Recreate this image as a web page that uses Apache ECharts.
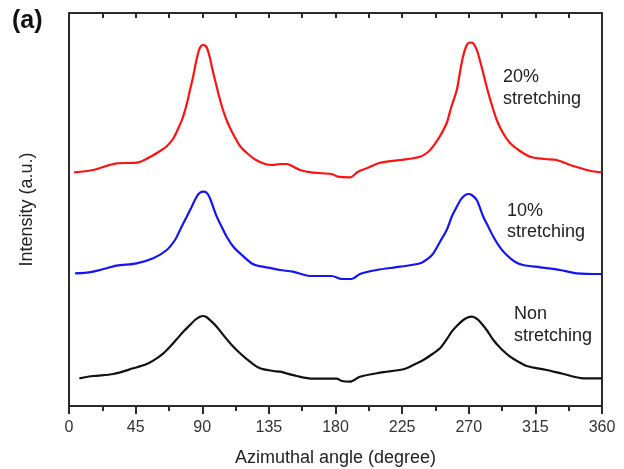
<!DOCTYPE html>
<html>
<head>
<meta charset="utf-8">
<script src="https://cdn.jsdelivr.net/npm/echarts@6/dist/echarts.min.js"></script>
<style>
html,body{margin:0;padding:0;background:#fff;overflow:hidden;}
#chart{width:624px;height:469px;}
</style>
</head>
<body>
<div id="chart"></div>
<script>
// Azimuthal angle (degree), intensity (a.u.) pairs
var xTicks = [0, 45, 90, 135, 180, 225, 270, 315, 360];

var red20 = [
  [3.4,233.7],[16.4,236],[32.2,242.7],[45.7,243.3],[54.7,249],[61.5,255],[66.2,260],[70.2,267],
  [73.6,277],[77.0,289],[79.7,303],[81.7,316],[83.8,329],[85.8,344],[87.8,356],[89.2,360],
  [90.5,361],[91.9,360.5],[93.2,358],[95.2,348],[97.3,334],[99.3,322],[101.3,310],[104.0,296],
  [106.7,285],[110.1,274],[115.5,260],[120.9,252],[126.3,246],[132.4,242],[137.8,241],[142.5,242],
  [147.2,242],[149.3,241],[156.0,236],[164.8,233.3],[177.4,232],[181.7,229.3],[189.8,228.7],
  [195.2,234.3],[201.1,237.7],[210.1,243.3],[223.6,246],[237.1,249.3],[242.5,254],[245.8,259.3],
  [250.6,270],[255.1,283],[258.0,298],[261.9,316],[264.1,334],[266.1,349.3],[268.1,359],
  [269.5,362.7],[271.5,363.5],[272.9,362.7],[274.9,358],[276.2,352.7],[278.9,338],[282.1,319.3],
  [285.0,304],[288.9,286],[293.1,273],[297.9,263],[304.6,255],[311.4,249.3],[321.5,247],
  [329.4,246],[338.4,241],[351.9,235.3],[359.8,233.7]
];

var blue10 = [
  [4.1,132.7],[12.0,133.3],[20.9,136],[32.2,140.3],[45.7,142.7],[56.9,147.7],[66.0,156],[71.6,166],
  [75.0,176],[79.5,189.3],[82.9,199.3],[86.2,209.3],[88.5,213.3],[90.7,214.3],[93.0,213.3],
  [95.2,207.7],[99.8,189.3],[103.1,179.3],[106.5,169.3],[111.0,159.3],[115.5,152.7],[124.5,141.7],
  [133.5,138.7],[142.5,136],[151.3,134.3],[162.8,130],[177.4,130],[184.2,127],[190.9,127],
  [196.5,132],[207.8,136],[223.6,139.3],[237.1,142.7],[242.7,147.7],[246.1,152.7],[250.6,164.3],
  [255.1,176],[258.5,189.3],[261.9,199.3],[265.2,207.7],[268.1,211.3],[269.7,212],[272.0,211],
  [275.4,206],[279.8,189.3],[283.2,179.3],[286.6,169.3],[291.1,158.7],[295.6,151],[301.2,144.3],
  [306.8,141],[318.1,138.7],[331.6,136],[342.9,132.7],[359.8,132]
];

var blackNon = [
  [7.0,27.7],[16.4,30],[29.9,32],[43.4,37.7],[52.5,42],[59.2,47.7],[63.7,52.7],[68.2,59.3],
  [72.7,66.7],[77.2,74.3],[81.7,81],[85.1,86],[88.5,89.3],[90.7,90],[93.0,88.7],[95.2,86],
  [99.8,79.3],[104.2,71],[109.9,61],[115.5,52.7],[122.2,44.3],[129.0,37.7],[138.0,35],[142.5,34.3],
  [153.8,30],[164.8,27.3],[180.8,27.3],[184.2,25],[189.8,24.3],[196.5,29.3],[210.1,33.3],
  [225.8,36.7],[232.5,41],[239.3,46],[246.1,52.7],[250.6,57.7],[255.1,66.7],[258.5,74.3],
  [261.9,80],[266.3,86],[269.7,88.7],[272.0,89.3],[274.9,87.7],[277.6,84.3],[282.1,76],[286.6,66],
  [292.2,56.7],[297.9,49.3],[303.5,44.3],[309.1,40],[322.6,36],[333.9,32],[347.4,27.7],[359.8,27.7]
];

var FONT = '"Liberation Sans", Arial, sans-serif';
var AX = '#2b2b2b';

var chart = echarts.init(document.getElementById('chart'), null, {renderer: 'canvas', width: 624, height: 469});

function lineSeries(name, data, color) {
  return {
    name: name, type: 'line', data: data, xAxisIndex: 0, yAxisIndex: 0,
    smooth: 0.3, symbol: 'none',
    lineStyle: {color: color, width: 2.2},
    animation: false
  };
}

chart.setOption({
  animation: false,
  grid: {left: 69, right: 22, top: 13, bottom: 63, containLabel: false, outerBoundsMode: 'none'},
  xAxis: [
    {
      type: 'value', position: 'bottom', min: 0, max: 360, interval: 45,
      name: 'Azimuthal angle (degree)', nameLocation: 'middle', nameGap: 43,
      nameTextStyle: {fontFamily: FONT, fontSize: 18, color: '#222'},
      axisLine: {show: true, onZero: false, lineStyle: {color: AX, width: 2}},
      axisTick: {show: true, inside: false, length: 8, lineStyle: {color: AX, width: 2}},
      minorTick: {show: true, splitNumber: 2, length: 5, lineStyle: {color: AX, width: 2}},
      axisLabel: {fontFamily: FONT, fontSize: 16, color: '#333', margin: 14},
      splitLine: {show: false}
    },
    {
      type: 'value', position: 'top', min: 0, max: 360, interval: 22.5,
      axisLine: {show: true, onZero: false, lineStyle: {color: AX, width: 2}},
      axisTick: {show: true, inside: true, length: 5, lineStyle: {color: AX, width: 2}},
      axisLabel: {show: false},
      splitLine: {show: false}
    }
  ],
  yAxis: [
    {
      type: 'value', position: 'left', min: 0, max: 393,
      name: 'Intensity (a.u.)', nameLocation: 'middle', nameGap: 33,
      nameTextStyle: {fontFamily: FONT, fontSize: 18, color: '#222'},
      axisLine: {show: true, onZero: false, lineStyle: {color: AX, width: 2}},
      axisTick: {show: false}, axisLabel: {show: false}, splitLine: {show: false}
    },
    {
      type: 'value', position: 'right', min: 0, max: 393,
      axisLine: {show: true, onZero: false, lineStyle: {color: AX, width: 2}},
      axisTick: {show: false}, axisLabel: {show: false}, splitLine: {show: false}
    }
  ],
  series: [
    lineSeries('20% stretching', red20, '#ff1111'),
    lineSeries('10% stretching', blue10, '#1414f5'),
    lineSeries('Non stretching', blackNon, '#111111')
  ],
  graphic: [
    {type: 'text', left: 12, top: 9, style: {text: '(a)', font: 'bold 25px ' + FONT, fill: '#111'}},
    {type: 'text', left: 503, top: 68, style: {text: '20%', font: '18px ' + FONT, fill: '#222'}},
    {type: 'text', left: 503, top: 90, style: {text: 'stretching', font: '18px ' + FONT, fill: '#222'}},
    {type: 'text', left: 507, top: 202, style: {text: '10%', font: '18px ' + FONT, fill: '#222'}},
    {type: 'text', left: 507, top: 223, style: {text: 'stretching', font: '18px ' + FONT, fill: '#222'}},
    {type: 'text', left: 514, top: 305, style: {text: 'Non', font: '18px ' + FONT, fill: '#222'}},
    {type: 'text', left: 514, top: 327, style: {text: 'stretching', font: '18px ' + FONT, fill: '#222'}}
  ]
});
</script>
</body>
</html>
